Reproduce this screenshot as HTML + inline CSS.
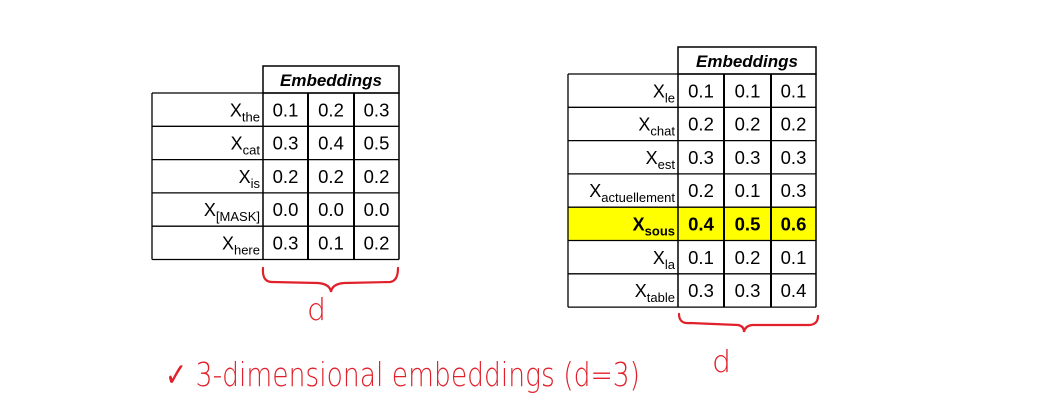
<!DOCTYPE html>
<html><head><meta charset="utf-8"><style>
body{margin:0;background:#fff;width:1037px;height:415px;overflow:hidden}
svg{display:block;font-family:"Liberation Sans","DejaVu Sans",sans-serif}
</style></head><body>
<svg id="s" width="1037" height="415" viewBox="0 0 1037 415">
<g id="hand" fill="none" stroke="#e0202a" stroke-width="2.2" stroke-linecap="round">
<path d="M263 268 Q262 282 272 282 L318 283 Q330 284 331 292 Q332 284 344 283 L390 282 Q398 281 398 268"/>
<path d="M679 314 Q679 324 690 323 L738 325 Q744 326 744 332 Q745 326 752 325 L810 325 Q818 324 818 316"/>
</g>
<text x="307" y="320" font-size="30" fill="#e0202a" font-family="DejaVu Sans" font-weight="200">d</text>
<text x="712" y="372" font-size="30" fill="#e0202a" font-family="DejaVu Sans" font-weight="200">d</text>
<text x="165" y="386" font-size="33" fill="#e0202a" font-family="DejaVu Sans" font-weight="200" textLength="475" lengthAdjust="spacingAndGlyphs">✓ 3-dimensional embeddings (d=3)</text>
</svg>
<script>
const leftTokens=["the","cat","is","[MASK]","here"];
const leftValues=[[0.1,0.2,0.3],[0.3,0.4,0.5],[0.2,0.2,0.2],[0.0,0.0,0.0],[0.3,0.1,0.2]];
const rightTokens=["le","chat","est","actuellement","sous","la","table"];
const rightValues=[[0.1,0.1,0.1],[0.2,0.2,0.2],[0.3,0.3,0.3],[0.2,0.1,0.3],[0.4,0.5,0.6],[0.1,0.2,0.1],[0.3,0.3,0.4]];
const highlightRow=4;
const NS="http://www.w3.org/2000/svg";
const svg=document.getElementById('s');
function mk(tag,attrs,parent){const e=document.createElementNS(NS,tag);for(const k in attrs)e.setAttribute(k,attrs[k]);parent.appendChild(e);return e;}
function table(name,tokens,vals,x0,xs,yTop,yHead,rh,hl){
  const g=mk('g',{},svg);
  
  
  const bottom=yHead+rh*tokens.length;
  mk('rect',{x:xs[0],y:yTop,width:xs[3]-xs[0],height:yHead-yTop,fill:'#fff',stroke:'#000','stroke-width':1.5},g);
  const ht=mk('text',{x:(xs[0]+xs[3])/2,y:yHead-7,'text-anchor':'middle','font-size':17,'font-weight':'bold','font-style':'italic'},g);
  ht.textContent='Embeddings';
  
  
  tokens.forEach((t,i)=>{
    const y=yHead+rh*i;
    if(i===hl){const r=mk('rect',{x:x0,y:y,width:xs[3]-x0,height:rh,fill:'#ffff00'},g);
      
      }
    const bold=i===hl?'bold':'normal';
    const lt=mk('text',{x:xs[0]-3,y:y+rh-10,'text-anchor':'end','font-size':18,'font-weight':bold},g);
    
    
    lt.appendChild(document.createTextNode('X'));
    const sub=mk('tspan',{'font-size':13,dy:5},lt);sub.textContent=t;
    vals[i].forEach((v,j)=>{
      const c=mk('text',{x:(xs[j]+xs[j+1])/2,y:y+rh-10,'text-anchor':'middle','font-size':18.5,'font-weight':bold},g);
      c.textContent=v.toFixed(1);
      
      
    });
    mk('line',{x1:x0,x2:xs[3],y1:y,y2:y,stroke:'#000','stroke-width':1.3},g);
  });
  mk('line',{x1:x0,x2:xs[3],y1:bottom,y2:bottom,stroke:'#000','stroke-width':1.3},g);
  mk('line',{x1:x0,x2:x0,y1:yHead,y2:bottom,stroke:'#000','stroke-width':1.3},g);
  xs.forEach((x,k)=>mk('line',{x1:x,x2:x,y1:yHead,y2:bottom,stroke:'#000','stroke-width':k===0||k===3?1.5:2},g));
}
table('left-embedding-table',leftTokens,leftValues,152,[263,308,354,399],66,93,33.3,-1);
table('right-embedding-table',rightTokens,rightValues,568,[678,724,771,816],47,74,33.3,highlightRow);
svg.appendChild(document.getElementById('hand'));
</script>
</body></html>
